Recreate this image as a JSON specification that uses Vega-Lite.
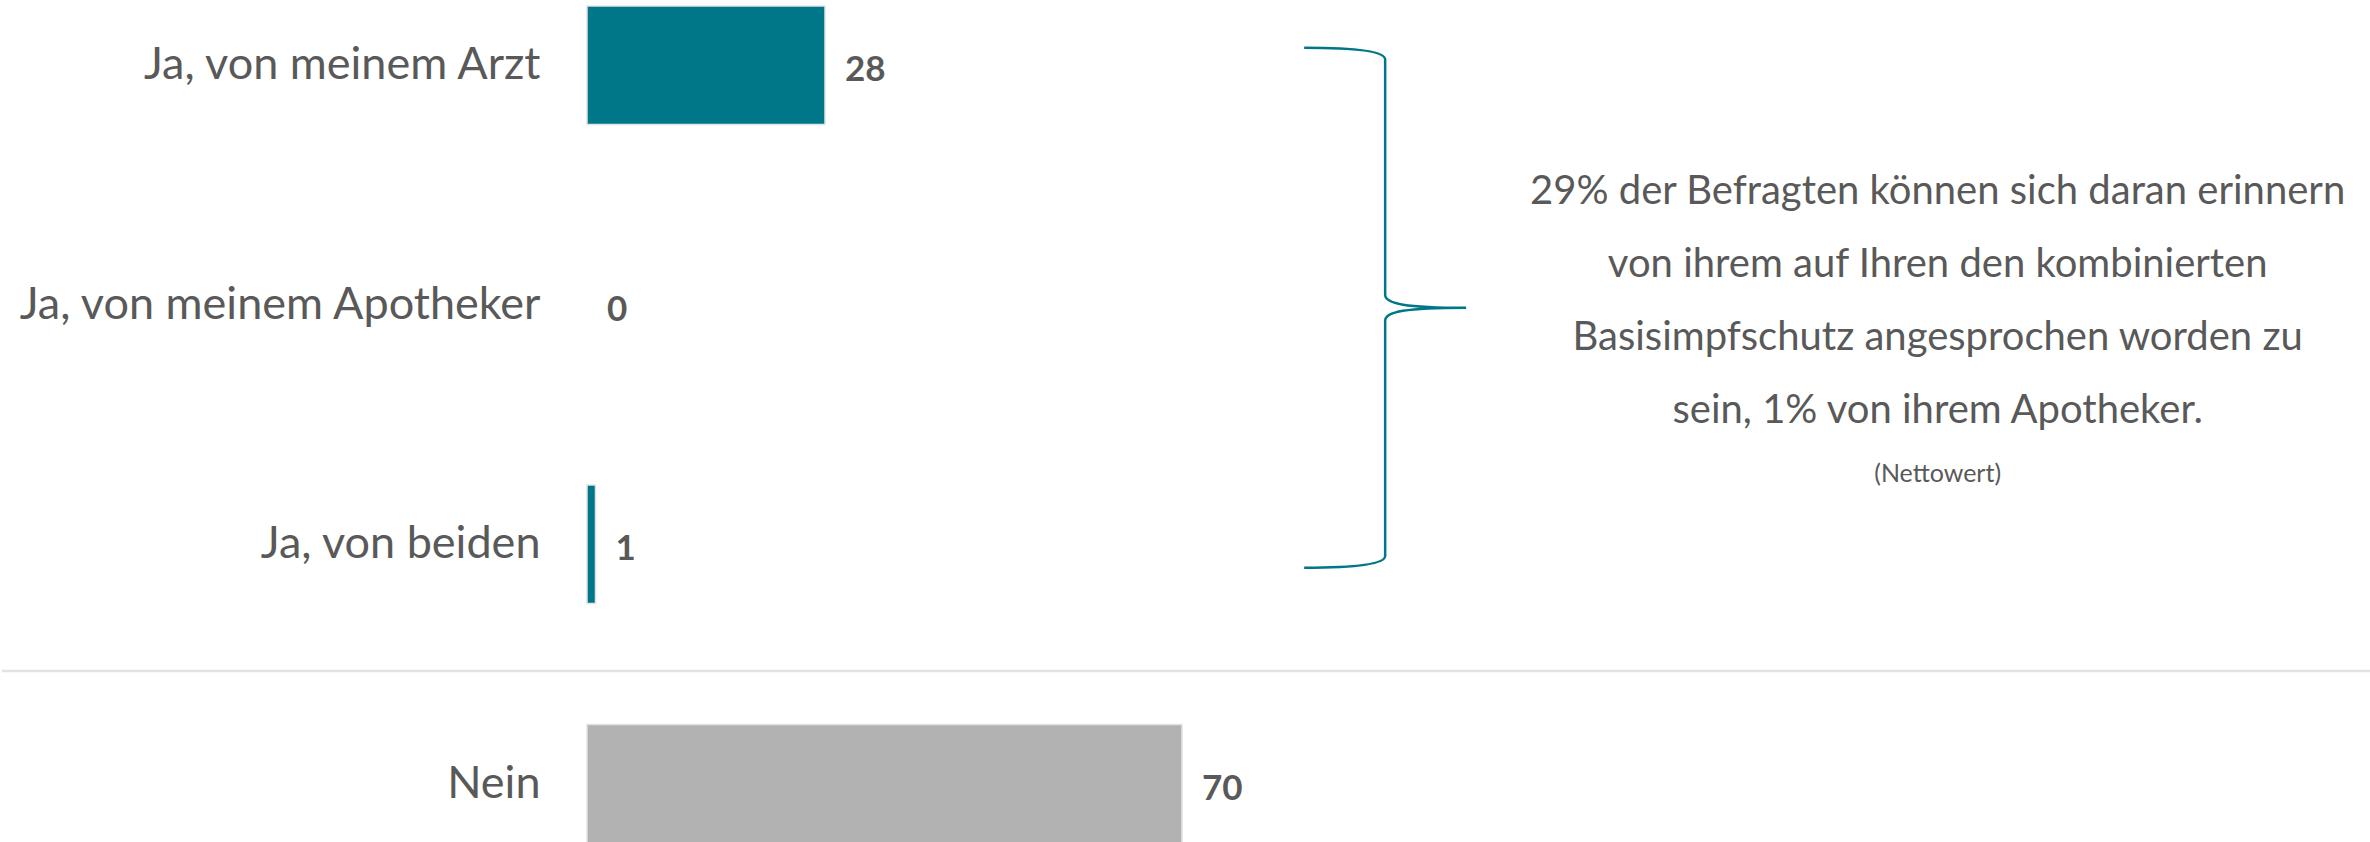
{
  "$schema": "https://vega.github.io/schema/vega-lite/v6.json",
  "width": 1785,
  "height": 837,
  "padding": {"left": 0, "top": 5, "right": 0, "bottom": 0},
  "autosize": {"type": "pad"},
  "background": "white",
  "config": {"view": {"stroke": null}, "font": "Lato"},
  "datasets": {
    "antworten": [
      {"kategorie": "Ja, von meinem Arzt", "wert": 28, "gruppe": "Ja"},
      {"kategorie": "Ja, von meinem Apotheker", "wert": 0, "gruppe": "Ja"},
      {"kategorie": "Ja, von beiden", "wert": 1, "gruppe": "Ja"},
      {"kategorie": "Nein", "wert": 70, "gruppe": "Nein"}
    ],
    "klammer": [{"kategorie": "Ja, von meinem Apotheker", "wert": 93.9}],
    "trenner": [{"kategorie": "Nein"}],
    "notiz": [
      {"kategorie": "Ja, von meinem Apotheker", "wert": 158.9, "text": "29% der Befragten können sich daran erinnern\nvon ihrem auf Ihren den kombinierten\nBasisimpfschutz angesprochen worden zu\nsein, 1% von ihrem Apotheker."}
    ],
    "fussnote": [{"kategorie": "Ja, von meinem Apotheker", "wert": 158.9, "text": "(Nettowert)"}]
  },
  "layer": [
    {
      "data": {"name": "trenner"},
      "mark": {"type": "rule", "color": "#E2E2E2", "strokeWidth": 2.5, "yOffset": -53.5},
      "encoding": {
        "x": {"value": -585},
        "x2": {"value": 1785},
        "y": {"field": "kategorie", "type": "nominal", "bandPosition": 0,
              "sort": ["Ja, von meinem Arzt", "Ja, von meinem Apotheker", "Ja, von beiden", "Nein"]}
      }
    },
    {
      "data": {"name": "antworten"},
      "mark": {"type": "bar", "stroke": "#E3E3E3"},
      "encoding": {
        "y": {
          "field": "kategorie", "type": "nominal",
          "sort": ["Ja, von meinem Arzt", "Ja, von meinem Apotheker", "Ja, von beiden", "Nein"],
          "scale": {"paddingInner": 0.505, "paddingOuter": 0},
          "axis": {
            "title": null, "domain": false, "ticks": false, "grid": false,
            "labelPadding": 47, "minExtent": 585, "maxExtent": 585,
            "labelLimit": 0, "labelFontSize": 45, "labelFont": "Lato", "labelFontWeight": 400,
            "labelColor": "#595959", "labelAlign": "right", "labelBaseline": "middle"
          }
        },
        "x": {"field": "wert", "type": "quantitative", "scale": {"domain": [0, 210], "nice": false, "zero": true}, "axis": null},
        "color": {"field": "gruppe", "type": "nominal", "scale": {"domain": ["Ja", "Nein"], "range": ["#007788", "#B2B2B2"]}, "legend": null},
        "strokeWidth": {"condition": {"test": "datum.wert === 0", "value": 0}, "value": 1.5}
      }
    },
    {
      "data": {"name": "antworten"},
      "mark": {"type": "text", "align": "left", "baseline": "middle", "dx": 20, "dy": 5, "fontSize": 35, "fontWeight": "bold", "font": "Lato", "color": "#595959"},
      "encoding": {
        "y": {"field": "kategorie", "type": "nominal", "sort": ["Ja, von meinem Arzt", "Ja, von meinem Apotheker", "Ja, von beiden", "Nein"]},
        "x": {"field": "wert", "type": "quantitative"},
        "text": {"field": "wert", "type": "quantitative"}
      }
    },
    {
      "data": {"name": "klammer"},
      "mark": {
        "type": "point", "filled": false, "stroke": "#007788", "strokeWidth": 2.5, "opacity": 1,
        "size": 270400, "yOffset": 3,
        "shape": "M-0.3115,-1 C-0.1,-1 0,-0.985 0,-0.955 L0,-0.05 C0,-0.015 0.08,0 0.3115,0 M0.3115,0 C0.08,0 0,0.015 0,0.05 L0,0.955 C0,0.985 -0.1,1 -0.3115,1"
      },
      "encoding": {
        "y": {"field": "kategorie", "type": "nominal", "sort": ["Ja, von meinem Arzt", "Ja, von meinem Apotheker", "Ja, von beiden", "Nein"]},
        "x": {"field": "wert", "type": "quantitative"}
      }
    },
    {
      "data": {"name": "notiz"},
      "mark": {"type": "text", "align": "center", "baseline": "middle", "lineBreak": "\n", "lineHeight": 73, "dy": -113, "fontSize": 40, "fontWeight": 400, "font": "Lato", "color": "#595959"},
      "encoding": {
        "y": {"field": "kategorie", "type": "nominal", "sort": ["Ja, von meinem Arzt", "Ja, von meinem Apotheker", "Ja, von beiden", "Nein"]},
        "x": {"field": "wert", "type": "quantitative"},
        "text": {"field": "text", "type": "nominal"}
      }
    },
    {
      "data": {"name": "fussnote"},
      "mark": {"type": "text", "align": "center", "baseline": "middle", "dy": 169, "fontSize": 25, "fontWeight": 400, "font": "Lato", "color": "#595959"},
      "encoding": {
        "y": {"field": "kategorie", "type": "nominal", "sort": ["Ja, von meinem Arzt", "Ja, von meinem Apotheker", "Ja, von beiden", "Nein"]},
        "x": {"field": "wert", "type": "quantitative"},
        "text": {"field": "text", "type": "nominal"}
      }
    }
  ]
}
